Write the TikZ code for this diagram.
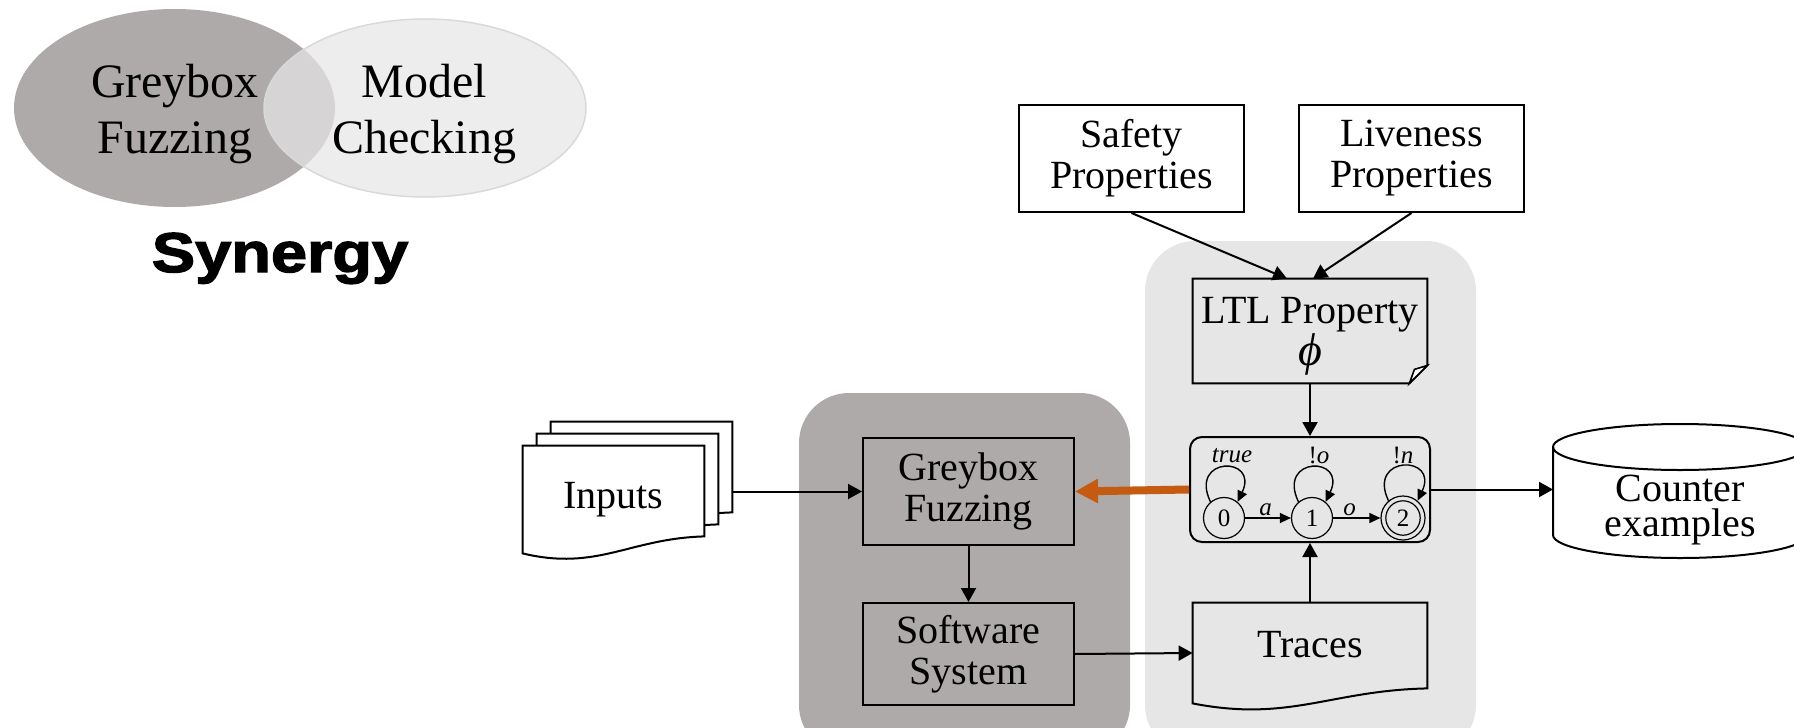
\documentclass[tikz,border=0pt]{standalone}
\usepackage{fontspec}
\setmainfont{Liberation Serif}
\newfontfamily\synfont{Liberation Sans}[FakeBold=2.5, FakeStretch=1.16]
\usetikzlibrary{arrows.meta,calc}
\definecolor{darkg}{HTML}{AEAAAA}
\definecolor{lightg}{HTML}{E7E6E6}
\definecolor{orng}{HTML}{C55A11}
\definecolor{venline}{HTML}{D9D9D9}
\pgfdeclarelayer{back}
\pgfdeclarelayer{mid}
\pgfsetlayers{back,mid,main}
\tikzset{
  boxtext/.style={inner sep=0pt, align=center, font=\fontsize{20pt}{20.5pt}\selectfont},
  box/.style={boxtext, draw, line width=1pt},
  vtext/.style={inner sep=0pt, align=center, font=\fontsize{24pt}{28pt}\selectfont},
  arr/.style={-{Triangle[length=7pt,width=7.5pt]}, line width=1pt},
  oarr/.style={-{Triangle[length=11.5pt,width=11.5pt]}, line width=4pt, draw=orng},
  aarr/.style={-{Triangle[length=5.5pt,width=5pt]}, line width=0.7pt},
  state/.style={circle, draw, line width=0.6pt, inner sep=0pt, minimum size=20.5pt, font=\fontsize{12.5pt}{13pt}\selectfont},
  lab/.style={inner sep=1pt, font=\fontsize{12.5pt}{13pt}\selectfont},
  shapeline/.style={line width=1pt},
}
\begin{document}
\begin{tikzpicture}[x=0.5pt, y=-0.5pt]
\useasboundingbox (0,0) rectangle (1794,728);
\clip (0,0) rectangle (1794,728);

% ---------- Venn diagram ----------
\fill[darkg] (174.5,108) ellipse [x radius=80.25pt, y radius=49.5pt];
\draw[draw=venline, fill=lightg, fill opacity=0.7, line width=0.75pt] (425,108) ellipse [x radius=80.5pt, y radius=44.5pt];
\node[vtext] (gf) at (175,114) {Greybox\\Fuzzing};
\node[vtext] (mc) at (424,114) {Model\\Checking};
\node[inner sep=0pt, anchor=base, font=\synfont\bfseries\fontsize{28pt}{30pt}\selectfont] (synergy) at (280,272) {Synergy};

% ---------- panels ----------
\begin{pgfonlayer}{back}
\fill[darkg, rounded corners=25pt] (799,393) rectangle (1130,755);
\fill[lightg, rounded corners=25pt] (1145,241) rectangle (1476,755);
\end{pgfonlayer}

% ---------- property boxes ----------
\node[box, fill=white, minimum width=112.5pt, minimum height=53.5pt] (safety) at (1131.5,158.5) {Safety\\Properties};
\node[box, fill=white, minimum width=112.5pt, minimum height=53.5pt] (liveness) at (1411.5,158.5) {Liveness\\Properties};

% ---------- LTL property (note shape) ----------
\node[inner sep=0pt, minimum width=117pt, minimum height=52pt] (ltl) at (1310,331) {};
\begin{pgfonlayer}{mid}
\draw[shapeline, fill=lightg] (ltl.north west) -- (ltl.north east) -- ([yshift=9pt]ltl.south east) -- ([xshift=-9pt]ltl.south east) -- (ltl.south west) -- cycle;
\draw[line width=0.8pt, fill=white] ([yshift=9pt]ltl.south east) -- ([xshift=-6.5pt,yshift=7pt]ltl.south east) -- ([xshift=-9pt]ltl.south east) -- cycle;
\end{pgfonlayer}
\node[boxtext, font=\fontsize{20pt}{21pt}\selectfont] (ltltext) at (1310,336.5) {LTL Property\\\fontsize{23pt}{21pt}\selectfont\textit{ϕ}};

% ---------- automaton ----------
\node[draw, line width=1pt, fill=lightg, rounded corners=6pt, inner sep=0pt, minimum width=120pt, minimum height=52.5pt] (aut) at (1310,489.5) {};
\node[state] (s0) at (1224,518) {0};
\node[state] (s1) at (1312,518) {1};
\node[state, minimum size=22pt] (s2) at (1403,518) {};
\draw[line width=0.6pt] (s2.center) circle [radius=8.6pt];
\node[inner sep=0pt, font=\fontsize{12.5pt}{13pt}\selectfont] (s2t) at (s2.center) {2};
\draw[aarr] (s0) -- node[lab, pos=0.45, above] (la) {\textit{a}} (s1);
\draw[aarr] (s1) -- node[lab, pos=0.35, above] (lo) {\textit{o}} (s2);
\draw[aarr] (s0.130) .. controls +(-22,-46) and +(22,-46) .. (s0.50);
\draw[aarr] (s1.130) .. controls +(-22,-46) and +(22,-46) .. (s1.50);
\draw[aarr] (s2.130) .. controls +(-22,-46) and +(22,-46) .. (s2.50);
\node[lab, inner sep=0pt, anchor=base] (ltrue) at (1232,462) {\textit{true}};
\node[lab, inner sep=0pt, anchor=base] (lno) at (1319,463) {!\textit{o}};
\node[lab, inner sep=0pt, anchor=base] (lnn) at (1403,463) {!\textit{n}};

% ---------- traces ----------
\node[inner sep=0pt, minimum width=117pt, minimum height=50pt] (traces) at (1310,653) {};
\begin{pgfonlayer}{mid}
\draw[shapeline, fill=lightg] (traces.south west) -- (traces.north west) -- (traces.north east) -- ([yshift=7.5pt]traces.south east) .. controls +(-97,2) and +(97,19) .. (traces.south west) -- cycle;
\end{pgfonlayer}
\node[boxtext, anchor=base] (tracestext) at (1310,657) {Traces};

% ---------- fuzzing boxes ----------
\node[box, fill=darkg, minimum width=105.5pt, minimum height=53.5pt] (gbf) at (968.5,491.5) {Greybox\\Fuzzing};
\node[box, fill=darkg, minimum width=105.5pt, minimum height=51pt] (sw) at (968.5,654) {Software\\System};

% ---------- inputs (stack of documents) ----------
\node[boxtext, minimum width=90.5pt, minimum height=53.5pt] (inputs) at (613.5,499.5) {Inputs};
\begin{pgfonlayer}{mid}
\draw[shapeline, fill=white] ([xshift=14pt,yshift=12pt]inputs.south west) -- ([xshift=14pt,yshift=12pt]inputs.north west) -- ([xshift=14pt,yshift=12pt]inputs.north east) -- ([xshift=14pt,yshift=20.5pt]inputs.south east) .. controls +(-75,2) and +(75,18) .. ([xshift=14pt,yshift=12pt]inputs.south west) -- cycle;
\draw[shapeline, fill=white] ([xshift=7pt,yshift=6pt]inputs.south west) -- ([xshift=7pt,yshift=6pt]inputs.north west) -- ([xshift=7pt,yshift=6pt]inputs.north east) -- ([xshift=7pt,yshift=14.5pt]inputs.south east) .. controls +(-75,2) and +(75,18) .. ([xshift=7pt,yshift=6pt]inputs.south west) -- cycle;
\draw[shapeline, fill=white] (inputs.south west) -- (inputs.north west) -- (inputs.north east) -- ([yshift=8.5pt]inputs.south east) .. controls +(-75,2) and +(75,18) .. (inputs.south west) -- cycle;
\end{pgfonlayer}
\coordinate (inback) at (732,491.5);

% ---------- counter examples (cylinder) ----------
\coordinate (cylw) at (1553,489.5);
\begin{pgfonlayer}{mid}
\draw[shapeline, fill=white] (1553,447) -- (1553,535) arc[start angle=180, end angle=360, x radius=63.5pt, y radius=11.5pt] -- (1807,447) arc[start angle=0, end angle=180, x radius=63.5pt, y radius=11.5pt] -- cycle;
\draw[shapeline] (1553,447) arc[start angle=180, end angle=360, x radius=63.5pt, y radius=11.5pt];
\end{pgfonlayer}
\node[boxtext, font=\fontsize{20pt}{17.5pt}\selectfont] (counter) at (1680,510) {Counter\\examples};

% ---------- connectors ----------
\draw[arr] (inback) -- (gbf.west);
\draw[arr] (gbf) -- (sw);
\draw[arr] (sw.east) -- (traces.west);
\draw[arr] (traces) -- (aut);
\draw[arr] (ltl) -- (aut);
\draw[arr] (aut.east) -- (cylw);
\draw[oarr] (aut.west) -- (gbf.east);
\draw[arr] (safety.south) -- ($(ltl.north)+(-23,0)$);
\draw[arr] (liveness.south) -- ($(ltl.north)+(3,0)$);
\end{tikzpicture}
\end{document}
